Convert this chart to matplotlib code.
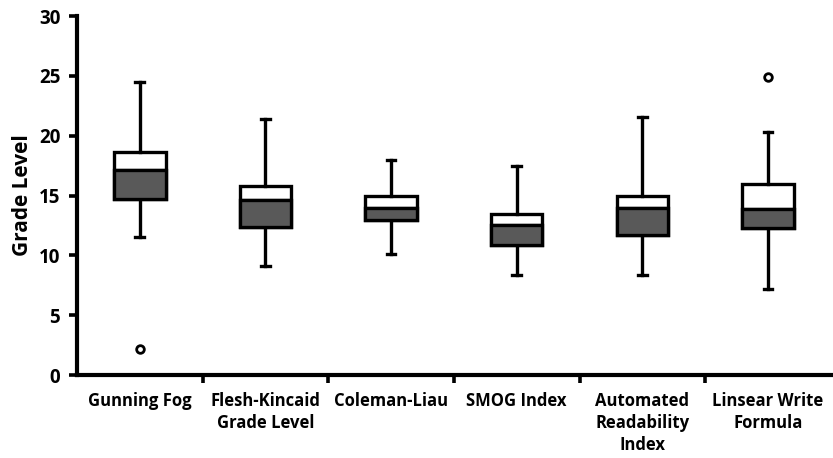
import numpy as np
import matplotlib
matplotlib.use("Agg")
import matplotlib.pyplot as plt

plt.rcParams['font.family'] = ['Open Sans', 'DejaVu Sans']
plt.rcParams['font.weight'] = 'bold'

labels = ["Gunning Fog", "Flesh-Kincaid\nGrade Level", "Coleman-Liau",
          "SMOG Index", "Automated\nReadability\nIndex", "Linsear Write\nFormula"]
whis_lo = [11.5, 9.1, 10.1, 8.4, 8.4, 7.2]
q1 = [14.7, 12.4, 13.0, 10.9, 11.7, 12.3]
med = [17.1, 14.6, 14.0, 12.5, 14.0, 13.9]
q3 = [18.6, 15.8, 15.0, 13.5, 15.0, 16.0]
whis_hi = [24.5, 21.4, 18.0, 17.5, 21.6, 20.3]
outliers = [[2.2], [], [], [], [], [24.9]]

fig = plt.figure(figsize=(8.33, 4.58), dpi=100)
ax = fig.add_axes([0.0924, 0.181, 0.905, 0.784])

x = np.arange(len(labels))
stats = []
for i in range(len(labels)):
    stats.append(dict(whislo=whis_lo[i], q1=q1[i], med=med[i], q3=q3[i],
                      whishi=whis_hi[i], fliers=outliers[i]))

lw = 2.4
ax.bxp(stats, positions=x, widths=0.41, patch_artist=True,
       boxprops=dict(facecolor="white", edgecolor="black", linewidth=lw),
       medianprops=dict(color="black", linewidth=lw),
       whiskerprops=dict(color="black", linewidth=lw),
       capprops=dict(color="black", linewidth=lw),
       capwidths=0.07,
       flierprops=dict(marker="o", markerfacecolor="white", markeredgecolor="black",
                       markersize=5.5, markeredgewidth=2))

# dark lower half of each box
ax.bar(x, np.array(med) - np.array(q1), bottom=q1, width=0.41,
       color="#595959", edgecolor="black", linewidth=lw, zorder=3)

ax.set_xlim(-0.5, len(labels) - 0.5)
ax.set_ylim(0, 30)
ax.set_yticks(range(0, 31, 5))
ax.set_xticks(x)
ax.set_xticklabels(labels, fontsize=12, fontweight="bold", linespacing=1.3)
ax.set_xticks(np.arange(0.5, len(labels) - 0.5, 1), minor=True)
ax.tick_params(axis="x", which="major", length=0, pad=12)
ax.tick_params(axis="x", which="minor", length=6, width=2.6, direction="out")
ax.tick_params(axis="y", length=6, width=2.6, labelsize=13.5, pad=6)
for t in ax.get_yticklabels():
    t.set_fontweight("bold")
ax.set_ylabel("Grade Level", fontsize=15, fontweight="bold", labelpad=4)

for s in ["top", "right"]:
    ax.spines[s].set_visible(False)
for s in ["left", "bottom"]:
    ax.spines[s].set_linewidth(3)

fig.savefig("out.png", dpi=100)
